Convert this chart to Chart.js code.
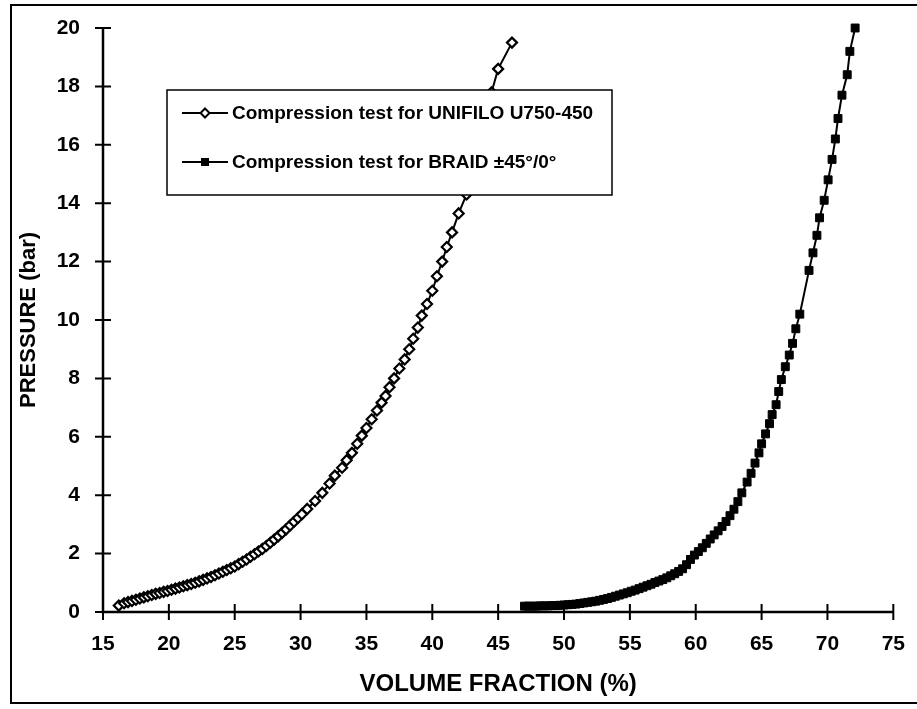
<!DOCTYPE html>
<html lang="en">
<head>
<meta charset="UTF-8">
<style>
    body { margin: 0; background: #fff; }
    .wrap { position: relative; width: 917px; height: 709px; }
</style>
<script src="https://cdn.jsdelivr.net/npm/chart.js"></script>
</head>
<body>
<div class="wrap"><canvas id="chart"></canvas></div>
<script>
// volume fraction (%) and pressure (bar)
const unifiloVf = [16.2,16.6,16.9,17.2,17.5,17.8,18.1,18.4,18.7,19.0,19.3,19.6,19.9,20.2,20.5,20.8,21.1,21.4,21.7,22.0,
    22.3,22.6,22.9,23.2,23.5,23.8,24.1,24.4,24.7,25.0,25.3,25.6,25.9,26.2,26.5,26.8,27.1,27.4,27.7,28.0,
    28.3,28.6,28.9,29.2,29.5,29.8,30.1,30.5,31.1,31.65,32.2,32.6,33.15,33.5,33.9,34.3,34.65,35.0,35.4,35.8,
    36.15,36.45,36.75,37.1,37.5,37.9,38.25,38.55,38.9,39.2,39.6,40.0,40.35,40.75,41.1,41.5,42.0,42.6,43.1,43.6,
    44.1,44.5,45.0,46.05];
const unifiloP = [0.22,0.30,0.34,0.38,0.42,0.46,0.50,0.54,0.58,0.62,0.65,0.69,0.72,0.76,0.80,0.84,0.88,0.92,0.96,1.00,
    1.05,1.10,1.15,1.20,1.26,1.32,1.38,1.44,1.50,1.56,1.64,1.72,1.80,1.89,1.98,2.07,2.16,2.26,2.37,2.48,
    2.59,2.71,2.83,2.96,3.09,3.22,3.35,3.53,3.80,4.08,4.40,4.67,4.94,5.20,5.45,5.76,6.04,6.30,6.60,6.90,
    7.17,7.40,7.70,8.00,8.34,8.65,9.00,9.36,9.74,10.15,10.55,11.00,11.50,12.00,12.50,13.00,13.65,14.30,15.20,16.10,
    17.00,17.80,18.60,19.50];

const braidVf = [47.0,47.3,47.6,47.9,48.2,48.5,48.8,49.1,49.4,49.7,50.0,50.3,50.6,50.9,51.2,51.5,51.8,52.1,52.4,52.7,
    53.0,53.3,53.6,53.9,54.2,54.5,54.8,55.1,55.4,55.7,56.0,56.3,56.6,56.9,57.2,57.5,57.8,58.1,58.4,58.7,
    59.0,59.3,59.6,59.9,60.2,60.5,60.8,61.1,61.4,61.7,62.0,62.3,62.6,62.9,63.2,63.5,63.9,64.2,64.5,64.8,
    65.0,65.3,65.6,65.8,66.1,66.3,66.5,66.8,67.1,67.35,67.6,67.9,68.6,68.9,69.2,69.4,69.75,70.05,70.35,70.6,
    70.8,71.1,71.5,71.7,72.1];
const braidP = [0.20,0.20,0.20,0.20,0.21,0.21,0.21,0.22,0.22,0.23,0.24,0.25,0.26,0.27,0.29,0.31,0.33,0.35,0.37,0.40,
    0.43,0.46,0.50,0.54,0.58,0.62,0.66,0.71,0.75,0.80,0.85,0.90,0.95,1.01,1.06,1.11,1.17,1.24,1.31,1.39,
    1.48,1.62,1.80,1.95,2.07,2.20,2.35,2.50,2.64,2.78,2.93,3.10,3.30,3.52,3.78,4.08,4.45,4.75,5.10,5.45,
    5.76,6.10,6.45,6.76,7.10,7.55,7.96,8.40,8.80,9.20,9.70,10.20,11.70,12.30,12.90,13.50,14.10,14.80,15.50,16.20,
    16.90,17.70,18.40,19.20,20.00];

const xTicks = [15, 20, 25, 30, 35, 40, 45, 50, 55, 60, 65, 70, 75];
const yTicks = [0, 2, 4, 6, 8, 10, 12, 14, 16, 18, 20];
const seriesNames = ['Compression test for UNIFILO U750-450', 'Compression test for BRAID \u00b145\u00b0/0\u00b0'];

const toPoints = (xs, ys) => xs.map((x, i) => ({ x: x, y: ys[i] }));
const FONT = "'Liberation Sans', Arial, sans-serif";

function diamond(ctx, x, y, r) {
    ctx.beginPath();
    ctx.moveTo(x, y - r); ctx.lineTo(x + r, y); ctx.lineTo(x, y + r); ctx.lineTo(x - r, y);
    ctx.closePath();
    ctx.fillStyle = '#fff'; ctx.fill();
    ctx.lineWidth = 2; ctx.strokeStyle = '#000'; ctx.stroke();
}

// axes with ticks crossing the line, the legend box and the outer frame
const figurePlugin = {
    id: 'figure',
    beforeDatasetsDraw(chart) {
        const { ctx, scales: { x, y } } = chart;
        const x0 = x.getPixelForValue(15), y0 = y.getPixelForValue(0);
        ctx.save();
        ctx.strokeStyle = '#000';
        ctx.lineWidth = 2.5;
        ctx.beginPath();
        ctx.moveTo(x0, y.getPixelForValue(20)); ctx.lineTo(x0, y0);
        ctx.lineTo(x.getPixelForValue(75), y0);
        ctx.stroke();
        ctx.lineWidth = 2;
        ctx.beginPath();
        yTicks.forEach(v => { const p = y.getPixelForValue(v); ctx.moveTo(x0 - 8, p); ctx.lineTo(x0 + 8, p); });
        xTicks.forEach(v => { const p = x.getPixelForValue(v); ctx.moveTo(p, y0 - 8); ctx.lineTo(p, y0 + 8); });
        ctx.stroke();
        ctx.restore();
    },
    afterDatasetsDraw(chart) {
        const ctx = chart.ctx;
        ctx.save();
        ctx.fillStyle = '#fff';
        ctx.fillRect(167, 90, 445, 105);
        ctx.strokeStyle = '#000';
        ctx.lineWidth = 1.5;
        ctx.strokeRect(167, 90, 445, 105);
        const rows = [113, 162];
        rows.forEach((ry, i) => {
            ctx.lineWidth = 2;
            ctx.beginPath(); ctx.moveTo(182, ry); ctx.lineTo(228, ry); ctx.stroke();
            if (i === 0) diamond(ctx, 205, ry, 4.5);
            else { ctx.fillStyle = '#000'; ctx.fillRect(201, ry - 4, 8, 8); }
            ctx.fillStyle = '#000';
            ctx.font = 'bold 19px ' + FONT;
            ctx.textBaseline = 'middle';
            ctx.textAlign = 'left';
            ctx.fillText(seriesNames[i], 232, ry + 1);
        });
        ctx.restore();
    },
    afterDraw(chart) {
        const ctx = chart.ctx;
        ctx.save();
        ctx.strokeStyle = '#000';
        ctx.lineWidth = 2;
        ctx.beginPath();
        ctx.moveTo(917, 5); ctx.lineTo(11, 5); ctx.lineTo(11, 703); ctx.lineTo(917, 703);
        ctx.stroke();
        ctx.restore();
    }
};

new Chart(document.getElementById('chart'), {
    type: 'scatter',
    data: {
        datasets: [{
            label: seriesNames[0],
            data: toPoints(unifiloVf, unifiloP),
            showLine: true,
            borderColor: '#000',
            borderWidth: 2,
            pointStyle: 'rectRot',
            pointRadius: 5,
            pointBackgroundColor: '#fff',
            pointBorderColor: '#000',
            pointBorderWidth: 2.2,
            clip: false
        }, {
            label: seriesNames[1],
            data: toPoints(braidVf, braidP),
            showLine: true,
            borderColor: '#000',
            borderWidth: 2,
            pointStyle: 'rect',
            pointRadius: 5.6,
            pointBackgroundColor: '#000',
            pointBorderColor: '#000',
            pointBorderWidth: 1,
            clip: false
        }]
    },
    options: {
        responsive: true,
        maintainAspectRatio: false,
        animation: false,
        events: [],
        layout: { padding: { top: 28, right: 17, bottom: 0, left: 0 } },
        plugins: { legend: { display: false }, tooltip: { enabled: false } },
        scales: {
            x: {
                type: 'linear', min: 15, max: 75,
                afterFit: s => { s.height = 97; },
                afterBuildTicks: s => { s.ticks = xTicks.map(v => ({ value: v })); },
                grid: { display: false }, border: { display: false },
                ticks: { color: '#000', padding: 12, maxRotation: 0, font: { family: FONT, size: 21, weight: 'bold' } },
                title: { display: true, text: 'VOLUME FRACTION (%)', color: '#000', padding: { top: 0, bottom: 10 },
                    font: { family: FONT, size: 24, weight: 'bold' } }
            },
            y: {
                type: 'linear', min: 0, max: 20,
                afterFit: s => { s.width = 103; },
                afterBuildTicks: s => { s.ticks = yTicks.map(v => ({ value: v })); },
                grid: { display: false }, border: { display: false },
                ticks: { color: '#000', padding: 15, font: { family: FONT, size: 21, weight: 'bold' } },
                title: { display: true, text: 'PRESSURE (bar)', color: '#000', padding: { top: 16, bottom: 0 },
                    font: { family: FONT, size: 22, weight: 'bold' } }
            }
        }
    },
    plugins: [figurePlugin]
});
</script>
</body>
</html>
